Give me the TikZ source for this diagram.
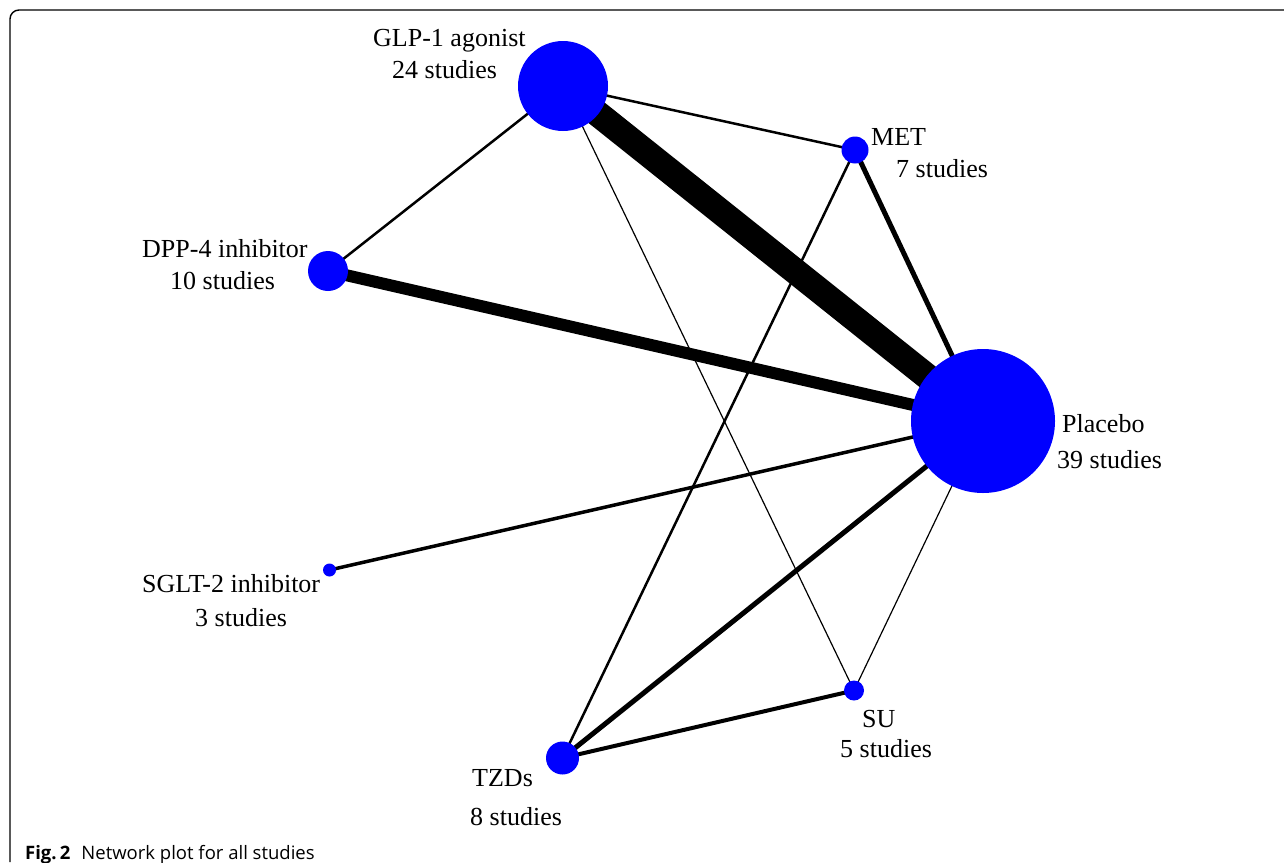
\documentclass[tikz,border=0pt]{standalone}
\usepackage{fontspec}
\setmainfont{Liberation Serif}
\newfontfamily\capfont{Open Sans}
\usetikzlibrary{backgrounds}
\definecolor{netblue}{RGB}{0,0,255}
\tikzset{
  trt/.style={circle,fill=netblue,inner sep=0pt,minimum size=#1},
  lbl/.style={anchor=base west,inner sep=0pt,font=\fontsize{26}{31}\selectfont},
  edge/.style={line width=#1,black}
}
\begin{document}
\begin{tikzpicture}[x=1pt,y=-1pt]
\useasboundingbox (0,0) rectangle (1284,862);
% frame
\draw[line width=1.4pt] (10,862) -- (10,19) arc[start angle=180,end angle=270,radius=9] -- (1284,10);
% treatment nodes
\node[trt=90pt]  (glp) at (563,86) {};
\node[trt=27pt]  (met) at (855,150) {};
\node[trt=40pt]  (dpp) at (328,271) {};
\node[trt=144pt] (pla) at (983,421) {};
\node[trt=13pt]  (sglt) at (329.5,570) {};
\node[trt=33pt]  (tzd) at (562.5,758) {};
\node[trt=20pt]  (su) at (854,690.5) {};
% edges
\begin{pgfonlayer}{background}
\draw[edge=26pt] (glp.center) -- (pla.center);
\draw[edge=12pt] (dpp.center) -- (pla.center);
\draw[edge=5pt] (met.center) -- (pla.center);
\draw[edge=5pt] (tzd.center) -- (pla.center);
\draw[edge=4pt] (tzd.center) -- (su.center);
\draw[edge=3.5pt] (sglt.center) -- (pla.center);
\draw[edge=2.5pt] (glp.center) -- (met.center);
\draw[edge=2.5pt] (glp.center) -- (dpp.center);
\draw[edge=2.5pt] (met.center) -- (tzd.center);
\draw[edge=1.2pt] (glp.center) -- (su.center);
\draw[edge=1.2pt] (su.center) -- (pla.center);
\end{pgfonlayer}
% labels
\node[lbl] (glpa) at (373,46) {GLP-1 agonist};
\node[lbl] (glpb) at (392,78) {24 studies};
\node[lbl] (meta) at (871,145) {MET};
\node[lbl] (metb) at (896,177) {7 studies};
\node[lbl] (dppa) at (142,257) {DPP-4 inhibitor};
\node[lbl] (dppb) at (170,289) {10 studies};
\node[lbl] (plaa) at (1062,432) {Placebo};
\node[lbl] (plab) at (1057,468) {39 studies};
\node[lbl] (sglta) at (142,592) {SGLT-2 inhibitor};
\node[lbl] (sgltb) at (195,626) {3 studies};
\node[lbl] (tzda) at (472,786) {TZDs};
\node[lbl] (tzdb) at (470,825) {8 studies};
\node[lbl] (sua) at (862,727) {SU};
\node[lbl] (sub) at (840,757) {5 studies};
% caption
\node[anchor=base west,inner sep=0pt,font=\capfont\fontsize{18.5}{22}\selectfont] (cap) at (25,859) {\textbf{Fig.\,2}\hspace{0.6em}Network plot for all studies};
\end{tikzpicture}
\end{document}
